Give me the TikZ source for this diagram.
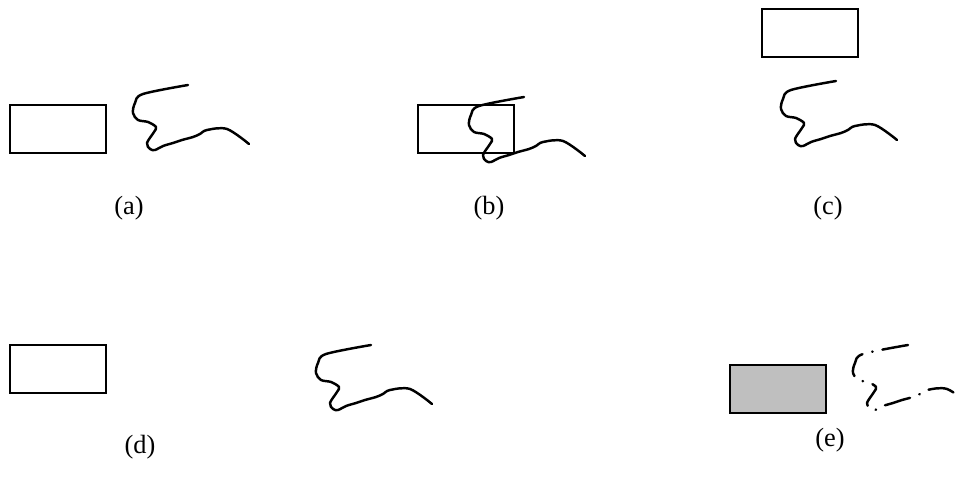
\documentclass[tikz,border=0pt]{standalone}
\usepackage{fontspec}
\setmainfont{Liberation Serif}
\usepackage{tikz}
\usetikzlibrary{positioning}

\begin{document}
\begin{tikzpicture}[
  x=0.02cm, y=-0.02cm,
  block/.style={draw, line width=0.8pt, minimum width=1.92cm, minimum height=0.96cm, inner sep=0pt},
  shaded/.style={block, fill=black!25},
  curve/.style={line width=1.4pt, line join=round, line cap=round},
  dashdot/.style={dash pattern=on 0.52cm off 0.2cm on 0.01cm off 0.2cm},
  tag/.style={font=\fontsize{15}{18}\selectfont},
  pics/wave/.style={code={
    \draw[curve] plot[smooth, tension=0.55] coordinates {(0,0) (-45,9) (-53,18) (-55,28) (-50,35) (-40,37) (-32,42) (-34,47) (-41,58) (-38,64) (-33,65) (-25,61) (-15,58) (-6,55) (5,52) (12,49) (19,45) (39,44) (61,59)};
  }}
]
\clip (0,0) rectangle (956,489);
% (a) apart
\node[block] (boxa) at (58,129) {};
\pic (wavea) at (188,85) {wave};
\node[tag] (labela) at (129,208) {(a)};
% (b) overlapping
\node[block] (boxb) at (466,129) {};
\pic (waveb) at (524,97) {wave};
\node[tag] (labelb) at (489,208) {(b)};
% (c) above
\node[block] (boxc) at (810,33) {};
\pic (wavec) at (836,81) {wave};
\node[tag] (labelc) at (828,208) {(c)};
% (d) far apart
\node[block] (boxd) at (58,369) {};
\pic (waved) at (371,345) {wave};
\node[tag] (labeld) at (140,447) {(d)};
% (e) filled, dash-dot
\node[shaded] (boxe) at (778,389) {};
\pic[dashdot] (wavee) at (908,345) {wave};
\node[tag] (labele) at (830,440) {(e)};
\end{tikzpicture}
\end{document}
